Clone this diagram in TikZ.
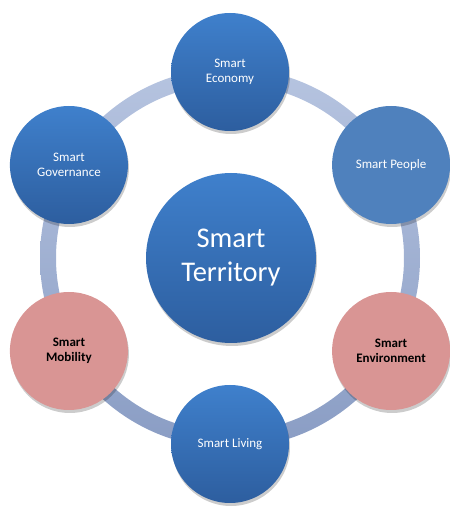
\documentclass[tikz,border=0pt]{standalone}
\usepackage{fontspec}
\setmainfont{Carlito}
\usepackage{tikz}
\usetikzlibrary{
  positioning,
  shadows
}
\definecolor{bluetop}{HTML}{3F80CC}
\definecolor{bluebot}{HTML}{2D5E9F}
\definecolor{peopleblue}{HTML}{4F81BD}
\definecolor{pinkfill}{HTML}{D99594}
\definecolor{ringtop}{HTML}{B6C4E0}
\definecolor{ringbot}{HTML}{8A9DC4}
\tikzset{
  x=1pt, y=1pt,
  bubble/.style={circle, minimum size=118pt, inner sep=0pt, align=center,
    font=\fontsize{13}{15.5}\selectfont,
    drop shadow={shadow xshift=1pt, shadow yshift=-3pt, opacity=.2, fill=black}},
  bluebubble/.style={bubble, top color=bluetop, bottom color=bluebot, text=white},
  flatbubble/.style={bubble, fill=peopleblue, text=white},
  pinkbubble/.style={bubble, fill=pinkfill, text=black,
    font=\fontsize{13}{15.5}\selectfont\bfseries},
  hub/.style={bluebubble, minimum size=170pt, font=\fontsize{28.5}{34}\selectfont}
}
\begin{document}
\begin{tikzpicture}
    \useasboundingbox (0,0) rectangle (450,507);
    \coordinate (ring) at (230,249);
    % ring behind the bubbles
    \shade[top color=ringtop, bottom color=ringbot, even odd rule]
      (ring) circle (190) (ring) circle (174);
    \node[hub] (territory) at (231,249) {Smart\\Territory};
    \node[bluebubble] (economy) at ([shift={(90:186)}]ring) {Smart\\Economy};
    \node[flatbubble] (people) at ([shift={(30:186)}]ring) {Smart People};
    \node[bluebubble] (governance) at ([shift={(150:186)}]ring) {Smart\\Governance};
    \node[pinkbubble] (mobility) at ([shift={(210:186)}]ring) {Smart\\Mobility};
    \node[pinkbubble] (environment) at ([shift={(330:186)}]ring) {Smart\\Environment};
    \node[bluebubble] (living) at ([shift={(270:186)}]ring) {Smart Living};
\end{tikzpicture}
\end{document}
